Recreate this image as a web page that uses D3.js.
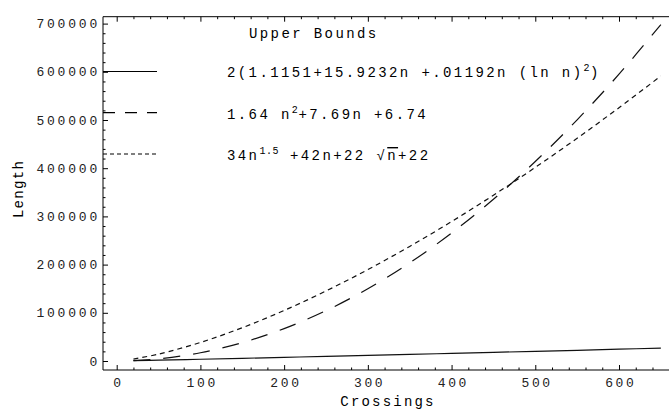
<!DOCTYPE html>
<html>
<head>
<meta charset="utf-8">
<script src="https://cdn.jsdelivr.net/npm/d3@7"></script>
<style>
  body { margin: 0; background: #fff; }
  svg text { font-family: "Liberation Mono", "Courier New", monospace; }
</style>
</head>
<body>
<div id="viz"></div>
<script>
const width = 669;
const height = 409;

// Data
const crossings = [20, 50, 100, 150, 200, 250, 300, 350, 400, 450, 500, 550, 600, 650];
const boundLog = [650, 1900, 3600, 5600, 7600, 9600, 11700, 13700, 15800, 17900, 20000, 22200, 24500, 26800];
const boundSquare = [817, 4491, 17176, 38060, 67145, 104429, 149914, 203598, 265483, 335567, 413852, 500336, 595021, 697905];
const boundPower = [4001, 14299, 38442, 69053, 104900, 145267, 189673, 237764, 289262, 343950, 401646, 462191, 525459, 591324];
const xTicks = [0, 100, 200, 300, 400, 500, 600];
const yTicks = [0, 100000, 200000, 300000, 400000, 500000, 600000, 700000];

const frame = {left: 103, top: 16.7, bottom: 370, right: width};

const x = d3.scaleLinear().domain([0, 600]).range([116.7, 619]);
const y = d3.scaleLinear().domain([0, 700000]).range([361, 23.6]);

const svg = d3.select('#viz')
  .append('svg')
    .attr('width', width)
    .attr('height', height);

// frame lines (right side falls outside the picture)
svg.append('path')
  .attr('d', `M${frame.right},${frame.top}H${frame.left}V${frame.bottom}H${frame.right}`)
  .attr('fill', 'none')
  .attr('stroke', '#000')
  .attr('stroke-width', 1);

const xMinor = d3.range(-0, 661, 20).filter(v => xTicks.indexOf(v) < 0 && x(v) < width);
const yMinor = d3.range(0, 700001, 20000).filter(v => yTicks.indexOf(v) < 0);

const styleAxis = g => {
  g.select('.domain').remove();
  g.selectAll('line').attr('stroke', '#000');
};

// bottom axis
svg.append('g')
  .attr('transform', `translate(0,${frame.bottom})`)
  .call(d3.axisBottom(x).tickValues(xTicks).tickSizeInner(-5).tickSizeOuter(0).tickPadding(8).tickFormat(d3.format('d')))
  .call(styleAxis)
  .call(g => g.selectAll('text')
    .attr('font-size', 13).attr('fill', '#222')
    .style('letter-spacing', '2.6px').attr('dx', '1.3'));
svg.append('g')
  .attr('transform', `translate(0,${frame.bottom})`)
  .call(d3.axisBottom(x).tickValues(xMinor).tickSizeInner(-2.5).tickSizeOuter(0).tickFormat(''))
  .call(styleAxis);

// top ticks
svg.append('g')
  .attr('transform', `translate(0,${frame.top})`)
  .call(d3.axisTop(x).tickValues(xTicks).tickSizeInner(-5).tickSizeOuter(0).tickFormat(''))
  .call(styleAxis);
svg.append('g')
  .attr('transform', `translate(0,${frame.top})`)
  .call(d3.axisTop(x).tickValues(xMinor).tickSizeInner(-2.5).tickSizeOuter(0).tickFormat(''))
  .call(styleAxis);

// left axis
svg.append('g')
  .attr('transform', `translate(${frame.left},0)`)
  .call(d3.axisLeft(y).tickValues(yTicks).tickSizeInner(-5).tickSizeOuter(0).tickPadding(3).tickFormat(d3.format('d')))
  .call(styleAxis)
  .call(g => g.selectAll('text')
    .attr('font-size', 13).attr('fill', '#222')
    .style('letter-spacing', '2.8px'));
svg.append('g')
  .attr('transform', `translate(${frame.left},0)`)
  .call(d3.axisLeft(y).tickValues(yMinor).tickSizeInner(-2.5).tickSizeOuter(0).tickFormat(''))
  .call(styleAxis);

// axis titles
svg.append('text')
  .attr('x', 388).attr('y', 406)
  .attr('text-anchor', 'middle')
  .attr('font-size', 14)
  .style('letter-spacing', '2.2px')
  .text('Crossings');

svg.append('text')
  .attr('transform', 'translate(23,189) rotate(-90)')
  .attr('text-anchor', 'middle')
  .attr('font-size', 14)
  .style('letter-spacing', '1.3px')
  .text('Length');

// curves
const series = [
  {values: boundLog, dash: null, legendDash: null},
  {values: boundSquare, dash: '17,13', legendDash: '12,10'},
  {values: boundPower, dash: '5,4', legendDash: '4,3'}
];

const line = d3.line()
  .x(d => x(d[0]))
  .y(d => y(d[1]))
  .curve(d3.curveCatmullRom);

svg.append('g').selectAll('path').data(series).join('path')
  .attr('d', s => line(crossings.map((c, i) => [c, s.values[i]])))
  .attr('fill', 'none')
  .attr('stroke', '#111')
  .attr('stroke-width', 1.2)
  .attr('stroke-dasharray', s => s.dash);

// legend
const legendY = [71.5, 112.7, 154];
svg.append('g').selectAll('line').data(series).join('line')
  .attr('x1', frame.left).attr('x2', 157)
  .attr('y1', (s, i) => legendY[i]).attr('y2', (s, i) => legendY[i])
  .attr('stroke', '#000')
  .attr('stroke-width', 1.2)
  .attr('stroke-dasharray', s => s.legendDash);

const legendText = (yPos) => svg.append('text')
  .attr('x', 227).attr('y', yPos)
  .attr('font-size', 14)
  .style('letter-spacing', '2.4px');

const sup = (t, s) => t.append('tspan')
  .attr('font-size', 10).attr('dy', -6)
  .style('letter-spacing', '0.6px')
  .text(s);

svg.append('text')
  .attr('x', 249).attr('y', 38)
  .attr('font-size', 14)
  .style('letter-spacing', '2.4px')
  .text('Upper Bounds');

const t1 = legendText(77);
t1.append('tspan').text('2(1.1151+15.9232n +.01192n (ln n)');
sup(t1, '2');
t1.append('tspan').attr('dy', 6).text(')');

const t2 = legendText(119);
t2.append('tspan').text('1.64 n');
sup(t2, '2');
t2.append('tspan').attr('dy', 6).text('+7.69n +6.74');

const t3 = legendText(160);
t3.append('tspan').text('34n');
sup(t3, '1.5');
t3.append('tspan').attr('dy', 6).text(' +42n+22 √');
t3.append('tspan').style('text-decoration', 'overline').text('n');
t3.append('tspan').text('+22');
</script>
</body>
</html>
